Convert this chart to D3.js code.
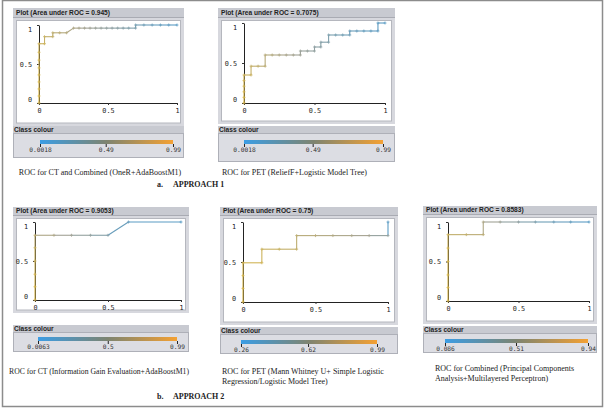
<!DOCTYPE html>
<html><head><meta charset="utf-8">
<script src="https://cdn.jsdelivr.net/npm/d3@7"></script>
<style>body{margin:0;background:#fff}svg{display:block}</style>
</head><body>
<svg id="c" width="605" height="408"></svg>
<script>
// ---------- DATA ----------
const titles = ["Plot (Area under ROC = 0.945)", "Plot (Area under ROC = 0.7075)", "Plot (Area under ROC = 0.9053)", "Plot (Area under ROC = 0.75)", "Plot (Area under ROC = 0.8583)"];
const captions = [
  ["ROC for CT and Combined (OneR+AdaBoostM1)"],
  ["ROC for PET (ReliefF+Logistic Model Tree)"],
  ["ROC for CT (Information Gain Evaluation+AdaBoostM1)"],
  ["ROC for PET (Mann Whitney U+ Simple Logistic", "Regression/Logistic Model Tree)"],
  ["ROC for Combined (Principal Components", "Analysis+Multilayered Perceptron)"]
];
const sectionLabels = [["a.", "APPROACH 1"], ["b.", "APPROACH 2"]];
const axisTicks = [0, 0.5, 1];

const p1Fpr = [0,0,0,0,0,0,0,0,0,0.04,0.04,0.10,0.10,0.15,0.20,0.25,0.29,0.33,0.37,0.41,0.45,0.49,0.53,0.57,0.61,0.65,0.70,0.70,0.76,0.82,0.88,0.94,1];
const p1Tpr = [0,0.09,0.18,0.27,0.36,0.45,0.55,0.65,0.76,0.76,0.85,0.85,0.90,0.90,0.90,0.96,0.96,0.96,0.96,0.96,0.96,0.96,0.96,0.96,0.96,0.96,0.96,1,1,1,1,1,1];
const p1Thr = [0.99,0.98,0.97,0.96,0.95,0.94,0.93,0.92,0.90,0.86,0.82,0.78,0.74,0.70,0.66,0.60,0.56,0.52,0.48,0.45,0.42,0.39,0.36,0.33,0.30,0.27,0.24,0.20,0.15,0.11,0.07,0.03,0.0018];

const p2Fpr = [0,0,0,0,0,0,0.05,0.05,0.10,0.15,0.15,0.20,0.25,0.30,0.35,0.40,0.40,0.45,0.50,0.50,0.545,0.545,0.60,0.60,0.65,0.70,0.75,0.75,0.80,0.85,0.90,0.95,0.95,1];
const p2Tpr = [0,0.07,0.14,0.21,0.28,0.35,0.35,0.46,0.46,0.46,0.60,0.60,0.60,0.60,0.60,0.60,0.65,0.65,0.65,0.70,0.70,0.76,0.76,0.85,0.85,0.85,0.85,0.90,0.90,0.90,0.90,0.90,1,1];
const p2Thr = [0.99,0.97,0.95,0.93,0.91,0.88,0.84,0.80,0.76,0.72,0.68,0.64,0.60,0.56,0.52,0.48,0.45,0.42,0.39,0.36,0.33,0.30,0.27,0.24,0.21,0.18,0.15,0.12,0.10,0.08,0.06,0.04,0.02,0.0018];

const p3Fpr = [0,0,0,0,0,0,0.13,0.25,0.38,0.5,0.64,1];
const p3Tpr = [0,0.17,0.33,0.5,0.67,0.83,0.83,0.83,0.83,0.83,1,1];
const p3Thr = [0.99,0.97,0.95,0.9,0.85,0.75,0.6,0.5,0.4,0.3,0.1,0.0063];

const p4Fpr = [0,0,0,0,0.13,0.13,0.25,0.37,0.37,0.5,0.62,0.75,0.87,1,1];
const p4Tpr = [0,0.17,0.33,0.49,0.49,0.66,0.66,0.66,0.83,0.83,0.83,0.83,0.83,0.83,1];
const p4Thr = [0.99,0.98,0.97,0.96,0.93,0.9,0.87,0.84,0.8,0.76,0.72,0.68,0.64,0.55,0.26];

const p5Fpr = [0,0,0,0,0,0,0.13,0.25,0.25,0.37,0.5,0.62,0.75,0.87,1];
const p5Tpr = [0,0.17,0.33,0.5,0.67,0.84,0.84,0.84,1,1,1,1,1,1,1];
const p5Thr = [0.94,0.93,0.92,0.91,0.9,0.85,0.75,0.7,0.6,0.5,0.4,0.3,0.2,0.15,0.086];

// class colour bar ticks (min, mid, max) and their labels
const cTickVals = [[0.0018,0.49,0.99],[0.0018,0.49,0.99],[0.0063,0.5,0.99],[0.26,0.62,0.99],[0.086,0.51,0.94]];
const cTickLabels = [["0.0018","0.49","0.99"],["0.0018","0.49","0.99"],["0.0063","0.5","0.99"],["0.26","0.62","0.99"],["0.086","0.51","0.94"]];

const series = [
  {fpr:p1Fpr,tpr:p1Tpr,thr:p1Thr},
  {fpr:p2Fpr,tpr:p2Tpr,thr:p2Thr},
  {fpr:p3Fpr,tpr:p3Tpr,thr:p3Thr},
  {fpr:p4Fpr,tpr:p4Tpr,thr:p4Thr},
  {fpr:p5Fpr,tpr:p5Tpr,thr:p5Thr}
];

// ---------- LAYOUT ----------
const layout = [
  {fx:13, fw:171, hy:8,   hh:9, pb:124, x0:39,  x1:177, y0:103, y1:25,  cy:126, by:133, bb:158, barY:140, bx0:40,  bx1:173, capX:100, capY:175, capA:"middle", capF:8},
  {fx:218,fw:177, hy:8,   hh:9, pb:122, x0:244, x1:385, y0:103, y1:23,  cy:126, by:133, bb:162, barY:140, bx0:244, bx1:383, capX:222, capY:175, capA:"start", capF:8},
  {fx:13, fw:176, hy:207, hh:8, pb:311, x0:35,  x1:181, y0:300, y1:222, cy:325, by:332, bb:352, barY:337, bx0:38,  bx1:177, capX:99,  capY:374, capA:"middle", capF:7.7},
  {fx:220,fw:178, hy:207, hh:8, pb:323, x0:243, x1:388, y0:302, y1:222, cy:327, by:334, bb:354, barY:340, bx0:241, bx1:377, capX:222, capY:374, capA:"start", capF:8},
  {fx:423,fw:174, hy:206, hh:8, pb:322, x0:448, x1:589, y0:301, y1:222, cy:326, by:333, bb:353, barY:339, bx0:445, bx1:588, capX:435, capY:371, capA:"start", capF:8}
];

const svg = d3.select("#c");
const defs = svg.append("defs");

// outer frame
svg.append("rect").attr("x",2.5).attr("y",0.5).attr("width",600).attr("height",406)
  .attr("fill","none").attr("stroke","#8c8c8c").attr("stroke-width",1.5);

const sansB = "'Liberation Sans', Arial, sans-serif";
const mono = "'DejaVu Sans Mono', monospace";
const serif = "'Liberation Serif', 'Times New Roman', serif";

layout.forEach((L, i) => {
  const g = svg.append("g");
  const s = series[i];
  const ct = cTickVals[i];

  // plot frame
  g.append("rect").attr("x",L.fx).attr("y",L.hy).attr("width",L.fw).attr("height",L.pb+2-L.hy)
    .attr("fill","#d7d8de");
  g.append("rect").attr("x",L.fx).attr("y",L.hy).attr("width",L.fw).attr("height",L.hh)
    .attr("fill","#c8cad1");
  g.append("line").attr("x1",L.fx).attr("x2",L.fx+L.fw).attr("y1",L.hy+L.hh+0.5).attr("y2",L.hy+L.hh+0.5)
    .attr("stroke","#a9abb3");
  g.append("text").attr("x",L.fx+3).attr("y",L.hy+L.hh-2).text(titles[i])
    .attr("font-family",sansB).attr("font-weight","bold").attr("font-size",6.6).attr("fill","#222");
  g.append("rect").attr("x",L.fx+3.5).attr("y",L.hy+L.hh+3.5).attr("width",L.fw-7).attr("height",L.pb-(L.hy+L.hh+3.5)-1)
    .attr("fill","#fff").attr("stroke","#b5b7be");

  // scales & axes
  const x = d3.scaleLinear().domain([0,1]).range([L.x0,L.x1]);
  const y = d3.scaleLinear().domain([0,1]).range([L.y0,L.y1]);

  const fmt = d3.format("~g");
  const xa = g.append("g").attr("transform",`translate(0,${L.y0})`)
    .call(d3.axisBottom(x).tickValues(axisTicks).tickFormat(fmt).tickSize(2).tickSizeOuter(0).tickPadding(3));
  const ya = g.append("g").attr("transform",`translate(${L.x0},0)`)
    .call(d3.axisLeft(y).tickValues(axisTicks).tickFormat(fmt).tickSize(2).tickSizeOuter(0).tickPadding(5));
  [xa, ya].forEach(a => {
    a.select(".domain").attr("stroke","#222").attr("stroke-width",1);
    a.selectAll(".tick line").attr("stroke","#333");
    a.selectAll("text").attr("font-family",mono).attr("font-size",6.8).attr("fill","#222");
  });
  ya.selectAll("text").attr("dy", d => d === 0 ? "-0.25em" : d === 1 ? "0.9em" : "0.32em");

  // curve colours by threshold
  const curveCol = d3.scaleLinear().domain(ct).range(["#5b9cc4","#a2a295","#dab84a"]).clamp(true);
  const pts = s.fpr.map((f,k) => ({f, t:s.tpr[k], h:s.thr[k]}));
  const segs = d3.pairs(pts);
  g.append("g").selectAll("line").data(segs).join("line")
    .attr("x1",d=>x(d[0].f)).attr("y1",d=>y(d[0].t))
    .attr("x2",d=>x(d[1].f)).attr("y2",d=>y(d[1].t))
    .attr("stroke",d=>curveCol(d[1].h)).attr("stroke-width",1.1);
  g.append("g").selectAll("path").data(pts).join("path")
    .attr("d",d=>`M${x(d.f)-1.5},${y(d.t)}h3M${x(d.f)},${y(d.t)-1.5}v3`)
    .attr("stroke",d=>curveCol(d.h)).attr("stroke-width",0.8).attr("fill","none");

  // class colour
  g.append("rect").attr("x",L.fx).attr("y",L.cy).attr("width",L.fw).attr("height",L.by-L.cy)
    .attr("fill","#c8cad1");
  g.append("text").attr("x",L.fx+1).attr("y",L.by-1.2).text("Class colour")
    .attr("font-family",sansB).attr("font-weight","bold").attr("font-size",6.6).attr("fill","#222");
  g.append("rect").attr("x",L.fx+0.5).attr("y",L.by+0.5).attr("width",L.fw-1).attr("height",L.bb-L.by-1)
    .attr("fill","#dcdde3").attr("stroke","#aeb0b8");

  const barCol = d3.scaleLinear().domain(ct).range(["#3c9de4","#7d8471","#f4a133"]);
  const gid = "grad"+i;
  const grad = defs.append("linearGradient").attr("id",gid);
  d3.range(0,1.0001,0.1).forEach(p => {
    const v = ct[0] + p*(ct[2]-ct[0]);
    grad.append("stop").attr("offset",p).attr("stop-color",barCol(v));
  });
  const bx = d3.scaleLinear().domain([ct[0],ct[2]]).range([L.bx0,L.bx1]);
  g.append("rect").attr("x",L.bx0).attr("y",L.barY).attr("width",L.bx1-L.bx0).attr("height",4)
    .attr("fill",`url(#${gid})`);
  const ca = g.append("g").attr("transform",`translate(0,${L.barY+4})`)
    .call(d3.axisBottom(bx).tickValues(ct).tickFormat((d,k)=>cTickLabels[i][k]).tickSize(3).tickPadding(1));
  ca.select(".domain").remove();
  ca.selectAll(".tick line").attr("stroke","#222");
  ca.selectAll("text").attr("font-family",mono).attr("font-size",6.2).attr("fill","#333");

  // caption
  captions[i].forEach((line,k) => {
    g.append("text").attr("x",L.capX).attr("y",L.capY+k*10).attr("text-anchor",L.capA)
      .text(line).attr("font-family",serif).attr("font-size",L.capF).attr("fill","#222");
  });
});

// section labels
const secPos = [{y:187},{y:399}];
sectionLabels.forEach((s,k) => {
  svg.append("text").attr("x",157).attr("y",secPos[k].y).text(s[0])
    .attr("font-family",serif).attr("font-weight","bold").attr("font-size",8).attr("fill","#222");
  svg.append("text").attr("x",173).attr("y",secPos[k].y).text(s[1])
    .attr("font-family",serif).attr("font-weight","bold").attr("font-size",8).attr("fill","#222");
});
</script>
</body></html>
